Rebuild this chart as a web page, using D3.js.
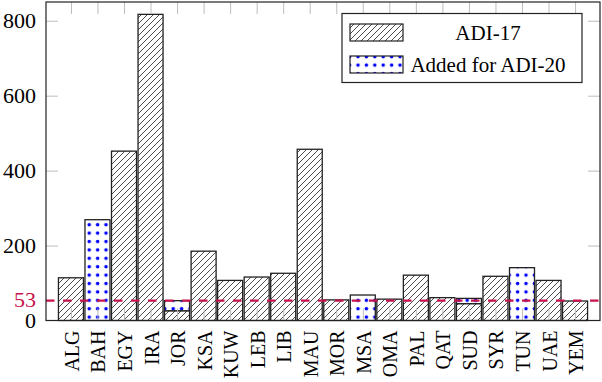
<!DOCTYPE html>
<html>
<head>
<meta charset="utf-8">
<script src="https://cdn.jsdelivr.net/npm/d3@7"></script>
<style>
  body { margin: 0; background: #fff; }
  svg { display: block; font-family: "Liberation Serif", "DejaVu Serif", serif; }
</style>
</head>
<body>
<svg id="chart" width="602" height="382"></svg>
<script>
// values
var categories = ["ALG","BAH","EGY","IRA","JOR","KSA","KUW","LEB","LIB","MAU",
                  "MOR","MSA","OMA","PAL","QAT","SUD","SYR","TUN","UAE","YEM"];
var adi17   = [114, 0, 452, 817, 26, 185, 107, 116, 126, 457, 55, 0, 57, 121, 61, 45, 118, 0, 107, 52];
var added20 = [0, 269, 0, 0, 27, 0, 0, 0, 0, 0, 0, 68, 0, 0, 0, 14, 0, 141, 0, 0];
var yTicks = [0, 200, 400, 600, 800];
var refValue = 53;
var seriesNames = ["ADI-17", "Added for ADI-20"];

var svg = d3.select("#chart");
var plotLeft = 46, plotRight = 600, plotTop = 2, plotBottom = 320.5;
var tickLen = 12;
var red = "#c8124b";

var x = d3.scaleLinear().domain([-0.94, categories.length - 1 + 0.94]).range([plotLeft, plotRight]);
var y = d3.scaleLinear().domain([0, 850]).range([plotBottom, plotTop]);
var barW = 25;

//patterns
var defs = svg.append("defs");
var hatch = defs.append("pattern")
   .attr("id", "hatch").attr("patternUnits", "userSpaceOnUse")
   .attr("width", 6).attr("height", 6);
hatch.append("rect").attr("width", 6).attr("height", 6).attr("fill", "#fff");
hatch.append("path")
   .attr("d", "M0,6 L6,0 M-1,1 L1,-1 M5,7 L7,5")
   .attr("stroke", "#000").attr("stroke-width", 0.7);
var dots = defs.append("pattern")
   .attr("id", "dots").attr("patternUnits", "userSpaceOnUse")
   .attr("x", 1).attr("y", 2)
   .attr("width", 8.4).attr("height", 8.4);
dots.append("rect").attr("width", 8.4).attr("height", 8.4).attr("fill", "#fff");
dots.append("circle").attr("cx", 4.2).attr("cy", 4.2).attr("r", 1.75).attr("fill", "#0000ff");

//stacked bars
var rows = categories.map(function(c, i){ return {cat: i, a: adi17[i], b: added20[i]}; });
var stack = d3.stack().keys(["a", "b"])(rows);
var fills = ["url(#hatch)", "url(#dots)"];

stack.forEach(function(layer, k){
   svg.append("g").selectAll("rect")
      .data(layer.filter(function(d){ return d[1] - d[0] > 0; }))
      .enter()
      .append("rect")
      .attr("x", function(d){ return x(d.data.cat) - barW / 2; })
      .attr("y", function(d){ return y(d[1]); })
      .attr("width", barW)
      .attr("height", function(d){ return y(d[0]) - y(d[1]); })
      .attr("fill", fills[k])
      .attr("stroke", "#222")
      .attr("stroke-width", 1.3);
});

//ticks (inward, gray, on all four sides)
var idx = d3.range(categories.length);
function styleTicks(g){
   g.select(".domain").remove();
   g.selectAll(".tick line").attr("stroke", "#bdbdbd").attr("stroke-width", 1);
   g.selectAll(".tick text").remove();
}
svg.append("g").attr("transform", "translate(0," + plotBottom + ")")
   .call(d3.axisBottom(x).tickValues(idx).tickSize(-tickLen)).call(styleTicks);
svg.append("g").attr("transform", "translate(0," + plotTop + ")")
   .call(d3.axisTop(x).tickValues(idx).tickSize(-tickLen)).call(styleTicks);
svg.append("g").attr("transform", "translate(" + plotLeft + ",0)")
   .call(d3.axisLeft(y).tickValues(yTicks.slice(1)).tickSize(-tickLen)).call(styleTicks);
svg.append("g").attr("transform", "translate(" + plotRight + ",0)")
   .call(d3.axisRight(y).tickValues(yTicks.slice(1)).tickSize(-tickLen)).call(styleTicks);

//reference line
svg.append("line")
   .attr("x1", plotLeft).attr("x2", plotRight)
   .attr("y1", y(refValue)).attr("y2", y(refValue))
   .attr("stroke", red).attr("stroke-width", 2.3)
   .attr("stroke-dasharray", "8.5 8.5");

//frame
svg.append("rect")
   .attr("x", plotLeft).attr("y", plotTop)
   .attr("width", plotRight - plotLeft).attr("height", plotBottom - plotTop)
   .attr("fill", "none").attr("stroke", "#222").attr("stroke-width", 1.2);

//y labels
svg.append("g").selectAll("text")
   .data(yTicks)
   .enter()
   .append("text")
   .attr("x", 36).attr("y", function(d){ return y(d); })
   .attr("dy", "0.35em").attr("text-anchor", "end")
   .attr("font-size", 22).attr("fill", "#000")
   .text(function(d){ return d; });
svg.append("text")
   .attr("x", 36).attr("y", y(refValue))
   .attr("dy", "0.3em").attr("text-anchor", "end")
   .attr("font-size", 22).attr("fill", red)
   .text(refValue);

//x labels, rotated
svg.append("g").selectAll("text")
   .data(idx)
   .enter()
   .append("text")
   .attr("transform", function(d){ return "translate(" + (x(d) + 1) + "," + (plotBottom + 10) + ") rotate(-90)"; })
   .attr("dy", "0.35em").attr("text-anchor", "end")
   .attr("font-size", 20).attr("fill", "#000")
   .text(function(d){ return categories[d]; });

//legend
var lg = svg.append("g");
lg.append("rect")
   .attr("x", 342).attr("y", 13.5).attr("width", 240).attr("height", 69)
   .attr("fill", "#fff").attr("stroke", "#222").attr("stroke-width", 1.2);
seriesNames.forEach(function(name, k){
   var ry = 24 + k * 32;
   lg.append("rect")
      .attr("x", 350).attr("y", ry).attr("width", 53).attr("height", 17)
      .attr("fill", fills[k]).attr("stroke", "#222").attr("stroke-width", 1.2);
   lg.append("text")
      .attr("x", 488).attr("y", ry + 8.5).attr("dy", "0.35em")
      .attr("text-anchor", "middle").attr("font-size", 21)
      .text(name);
});
</script>
</body>
</html>
